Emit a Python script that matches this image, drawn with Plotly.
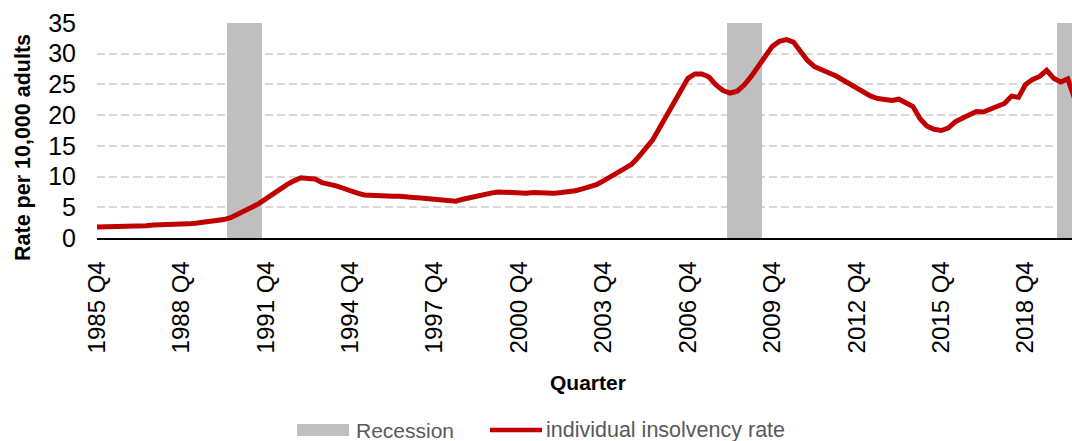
import plotly.graph_objects as go

# ---- data -------------------------------------------------------------
start_year, start_q = 1985, 4
insolvency_rate = [
    1.8, 1.8, 1.85, 1.9, 1.9, 1.9, 2.0, 2.0, 2.1, 2.1, 2.2, 2.2, 2.2, 2.3, 2.4, 2.5,
    2.7, 2.8, 3.0, 3.3, 3.8, 4.3, 5.0, 5.6, 6.4, 7.3, 8.1, 8.7, 9.3, 9.8, 9.7, 9.6,
    9.0, 8.8, 8.5, 8.1, 7.6, 7.3, 7.0, 6.9, 6.8, 6.8, 6.8, 6.8, 6.8, 6.6, 6.5, 6.4,
    6.2, 6.1, 6.0, 6.0, 6.3, 6.6, 6.8, 7.0, 7.3, 7.5, 7.4, 7.3, 7.3, 7.3, 7.4, 7.3,
    7.3, 7.3, 7.4, 7.5, 7.7, 8.0, 8.3, 8.7, 9.3, 10.0, 10.8, 11.4, 12.0, 13.2, 14.5, 16.0,
    18.0, 20.0, 22.2, 24.4, 26.0, 26.7, 26.7, 26.2, 24.9, 24.0, 23.6, 23.9, 24.9, 26.3, 27.9, 29.6,
    31.2, 32.0, 32.3, 31.9, 30.3, 28.9, 27.9, 27.3, 26.9, 26.4, 25.7, 25.2, 24.4, 23.6, 23.1, 22.7,
    22.5, 22.4, 22.6, 22.1, 21.4, 19.4, 18.2, 17.7, 17.5, 17.9, 18.9, 19.5, 20.0, 20.6, 20.5, 21.0,
    21.4, 21.9, 23.1, 22.9, 25.0, 25.8, 26.3, 27.3, 26.0, 25.4, 25.9, 22.6,
]
recession_quarters = [
    "1990 Q3", "1990 Q4", "1991 Q1", "1991 Q2", "1991 Q3",
    "2008 Q2", "2008 Q3", "2008 Q4", "2009 Q1", "2009 Q2",
    "2020 Q1", "2020 Q2", "2020 Q3",
]
recession_height = 35
tick_labels = ["1985 Q4", "1988 Q4", "1991 Q4", "1994 Q4", "1997 Q4", "2000 Q4",
               "2003 Q4", "2006 Q4", "2009 Q4", "2012 Q4", "2015 Q4", "2018 Q4"]
y_ticks = [0, 5, 10, 15, 20, 25, 30, 35]

# quarter labels
quarters = []
y, q = start_year, start_q
for _ in insolvency_rate:
    quarters.append(f"{y} Q{q}")
    q += 1
    if q > 4:
        q = 1
        y += 1

# ---- geometry -----------------------------------------------------------
W, H = 1072, 441
L, R, T, B = 97, 0, 23, 203
pw, ph = W - L - R, H - T - B


def px_x(x):
    return (x - L) / pw


def px_y(yp):
    return (H - B - yp) / ph


FONT = "Liberation Sans, Arial, sans-serif"

fig = go.Figure()
fig.add_trace(go.Bar(
    x=recession_quarters, y=[recession_height] * len(recession_quarters),
    marker=dict(color="#bfbfbf", line=dict(width=0)),
    name="Recession", hoverinfo="skip", showlegend=False,
))
fig.add_trace(go.Scatter(
    x=quarters, y=insolvency_rate, mode="lines",
    line=dict(color="#c00000", width=5),
    name="individual insolvency rate", showlegend=False,
))

fig.update_layout(
    width=W, height=H,
    margin=dict(l=L, r=R, t=T, b=B, pad=0),
    paper_bgcolor="white", plot_bgcolor="white",
    bargap=0,
    showlegend=False,
    font=dict(family=FONT, color="#000000"),
    xaxis=dict(
        type="category", categoryorder="array", categoryarray=quarters,
        range=[0, len(quarters) - 1.4],
        tickmode="array", tickvals=tick_labels, ticktext=tick_labels,
        tickangle=-90, tickfont=dict(size=24, color="#000000", family=FONT),
        ticks="", ticklabelstandoff=12,
        showgrid=False, showline=True, linecolor="#000000", linewidth=1.5,
        zeroline=False, automargin=False,
    ),
    yaxis=dict(
        range=[0, 35], tickmode="array", tickvals=y_ticks,
        tickfont=dict(size=25, color="#000000", family=FONT),
        ticks="", ticklabelstandoff=20,
        showgrid=True, gridcolor="#d9d9d9", gridwidth=1.5, griddash="8px,4px",
        zeroline=False, showline=False, automargin=False,
    ),
)

annotations = [
    dict(text="<b>Rate per 10,000 adults</b>", textangle=-90,
         x=px_x(22.5), y=px_y(147.5), xref="paper", yref="paper",
         showarrow=False, xanchor="center", yanchor="middle",
         font=dict(size=21.5, family=FONT, color="#000000")),
    dict(text="<b>Quarter</b>", x=px_x(588), y=px_y(383), xref="paper", yref="paper",
         showarrow=False, xanchor="center", yanchor="middle",
         font=dict(size=21, family=FONT, color="#000000")),
    dict(text="Recession", x=px_x(354), y=px_y(430), xref="paper", yref="paper",
         showarrow=False, xanchor="left", yanchor="middle",
         font=dict(size=21, family=FONT, color="#595959")),
    dict(text="individual insolvency rate", x=px_x(544), y=px_y(430), xref="paper", yref="paper",
         showarrow=False, xanchor="left", yanchor="middle",
         font=dict(size=21.5, family=FONT, color="#595959")),
]
shapes = [
    dict(type="rect", xref="paper", yref="paper",
         x0=px_x(297), x1=px_x(349), y0=px_y(436), y1=px_y(424),
         fillcolor="#bfbfbf", line=dict(width=0)),
    dict(type="line", xref="paper", yref="paper",
         x0=px_x(490), x1=px_x(542), y0=px_y(430), y1=px_y(430),
         line=dict(color="#c00000", width=4.5)),
]
fig.update_layout(annotations=annotations, shapes=shapes)

fig.write_html(
    "out.html",
    config={"displayModeBar": False},
    post_script="document.body.style.margin='0';document.body.style.overflow='hidden';",
)
